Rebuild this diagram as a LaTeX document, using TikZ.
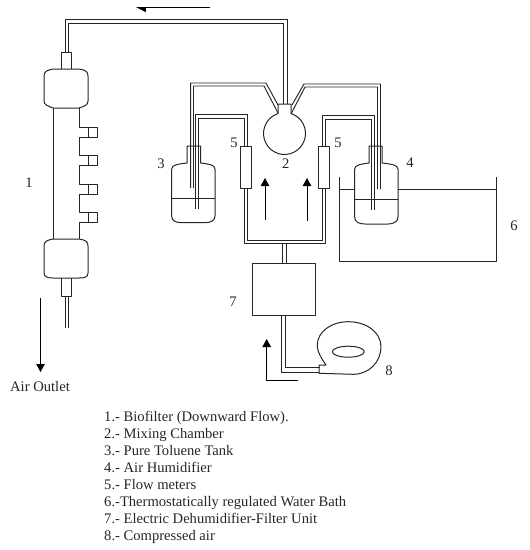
\documentclass[tikz,border=0pt]{standalone}
\usepackage{fontspec}
\setmainfont{Liberation Serif}
\usetikzlibrary{arrows.meta}
\tikzset{
  line/.style={draw=black!85,line width=1pt,line join=round},
  thin pipe/.style={draw=black!85,line width=0.95pt,line join=miter},
  flow/.style={draw=black,line width=1pt,-{Triangle[length=8pt,width=8.5pt]}},
  halfflow/.style={draw=black,line width=0.8pt,-{Triangle[left,length=9pt,width=9pt]}},
  lbl/.style={font=\fontsize{14.6}{16}\selectfont,inner sep=0pt,text=black!85},
  item/.style={font=\fontsize{14.6}{16}\selectfont,inner sep=0pt,anchor=base west,text=black!85}
}
\begin{document}
\begin{tikzpicture}[x=1pt,y=-1pt]
\useasboundingbox (0,0) rectangle (530,550);
% column top cap
\draw[line] (44,76) .. controls (44,71) and (48,70) .. (53,69) -- (79,69) .. controls (85,70) and (88,71) .. (88,76) -- (88,101) .. controls (88,105) and (85,106) .. (79,108) -- (53,108) .. controls (48,106) and (44,105) .. (44,101) -- cycle;
% column bottom cap
\draw[line] (44,246) .. controls (44,241) and (48,240) .. (53,239) -- (79,239) .. controls (85,240) and (88,241) .. (88,246) -- (88,273) .. controls (88,277) and (85,278) .. (79,278) -- (53,278) .. controls (48,278) and (44,277) .. (44,273) -- cycle;
% column body with ports
\draw[line] (53,108) -- (53,239);
\draw[line] (79,108) -- (79,127) -- (97,127) -- (97,137) -- (79,137) -- (79,155) -- (97,155) -- (97,165) -- (79,165) -- (79,184) -- (97,184) -- (97,194) -- (79,194) -- (79,212) -- (97,212) -- (97,222) -- (79,222) -- (79,239);
\foreach \yy in {127,155,184,212} \draw[line] (88,\yy) -- (88,\yy+10);
% necks
\draw[line] (61.5,69) -- (61.5,52) -- (71,52) -- (71,69);
\draw[line] (61.5,278) -- (61.5,296) -- (71,296) -- (71,278);
\draw[thin pipe] (65,296) -- (65,328);
\draw[thin pipe] (68,296) -- (68,328);
% top pipe
\draw[thin pipe] (65,52) -- (65,19.5) -- (287,19.5) -- (287,104);
\draw[thin pipe] (68,52) -- (68,23) -- (283,23) -- (283,104);
% flask: body is a circle open at the neck
\draw[line] (278,113.5) -- (278,104) -- (291,104) -- (291,113.5) arc[start angle=-72,delta angle=324,radius=21];
% left flask pipe
\draw[thin pipe] (190.7,188) -- (190.7,83) -- (266,83) -- (278,105);
\draw[thin pipe] (193.5,188) -- (193.5,86) -- (264,86) -- (278,113);
% right flask pipe
\draw[thin pipe] (377.5,189) -- (377.5,87) -- (305,87) -- (291,114);
\draw[thin pipe] (380.5,189) -- (380.5,84) -- (304,84) -- (292,105);
% left flowmeter pipe
\draw[thin pipe] (247,146) -- (247,114) -- (195,114) -- (195,209);
\draw[thin pipe] (244,146) -- (244,118) -- (198,118) -- (198,209);
% right flowmeter pipe
\draw[thin pipe] (322,146) -- (322,115) -- (374,115) -- (374,210);
\draw[thin pipe] (325.7,146) -- (325.7,119) -- (371,119) -- (371,210);
% flow meters
\draw[line] (240.7,146) rectangle (251,188);
\draw[line] (318,146) rectangle (329,188);
% lower manifold
\draw[thin pipe] (244,188) -- (244,243) -- (325.7,243) -- (325.7,188);
\draw[thin pipe] (247,188) -- (247,240) -- (322,240) -- (322,188);
\draw[thin pipe] (282.7,243) -- (282.7,263);
\draw[thin pipe] (286,243) -- (286,263);
% bottle 3
\draw[line] (187,163) -- (187,146) -- (200.7,146) -- (200.7,163) .. controls (209,164) and (215,165) .. (215,169) -- (215,216) .. controls (215,221) and (210,222.7) .. (205,222.7) -- (182,222.7) .. controls (176,222.7) and (171.7,221) .. (171.7,216) -- (171.7,169) .. controls (171.7,165) and (178,164) .. (187,163);
\draw[line] (171.7,198) -- (215,198);
% bottle 4
\draw[line] (369,163) -- (369,146) -- (382,146) -- (382,163) .. controls (391,164) and (398,165) .. (398,169) -- (398,217) .. controls (398,222) and (393,224) .. (388,224) -- (365,224) .. controls (359,224) and (354.7,222) .. (354.7,217) -- (354.7,169) .. controls (354.7,165) and (361,164) .. (369,163);
\draw[line] (354.7,199) -- (398,199);
% water bath
\draw[line] (339,177.3) -- (339,261.7) -- (496.7,261.7) -- (496.7,177.3);
\draw[line] (339,189) -- (354.7,189);
\draw[line] (398,189) -- (496.7,189);
% dehumidifier
\draw[line] (252,263) rectangle (315.7,315.7);
\draw[thin pipe] (281.7,315.7) -- (281.7,372.7) -- (319,372.7);
\draw[thin pipe] (285.7,315.7) -- (285.7,367) -- (320,367);
% blower
\draw[line] (326,365) .. controls (322,359) and (317.3,353) .. (317.3,345) .. controls (317.3,332) and (331,321.7) .. (348.3,321.7) .. controls (366,321.7) and (381,332) .. (381,346.7) .. controls (381,362) and (369,374.3) .. (353.3,374.3) -- (319,373.3) -- (319,365) -- cycle;
\draw[line] (348.3,351.7) ellipse[x radius=16,y radius=5.5];
% arrows
\coordinate (a1s) at (265,220); \coordinate (a1e) at (265,178);
\coordinate (a2s) at (307,221); \coordinate (a2e) at (307,178);
\coordinate (a3s) at (210,7.5); \coordinate (a3e) at (136,7.5);
\coordinate (a4s) at (40.5,298); \coordinate (a4e) at (40.5,372);
\coordinate (a5s) at (298.3,380); \coordinate (a5m) at (266.7,380); \coordinate (a5e) at (266.7,339);
\draw[flow] (a1s) -- (a1e);
\draw[flow] (a2s) -- (a2e);
\draw[halfflow] (a3s) -- (a3e);
\draw[flow] (a4s) -- (a4e);
\draw[flow] (a5s) -- (a5m) -- (a5e);
% labels
\node[lbl] (n1) at (29,183) {1};
\node[lbl] (n2) at (285.7,164) {2};
\node[lbl] (n3) at (161,164) {3};
\node[lbl] (n4) at (410,163) {4};
\node[lbl] (n5a) at (234,143) {5};
\node[lbl] (n5b) at (338,143) {5};
\node[lbl] (n6) at (514,226) {6};
\node[lbl] (n7) at (233,302) {7};
\node[lbl] (n8) at (389,371) {8};
\node[lbl] (outlet) at (40,386) {Air Outlet};
\node[item] (i1) at (104,421.5) {1.- Biofilter (Downward Flow).};
\node[item] (i2) at (104,438.5) {2.- Mixing Chamber};
\node[item] (i3) at (104,455.5) {3.- Pure Toluene Tank};
\node[item] (i4) at (104,472.3) {4.- Air Humidifier};
\node[item] (i5) at (104,489.2) {5.- Flow meters};
\node[item] (i6) at (104,506) {6.-Thermostatically regulated Water Bath};
\node[item] (i7) at (104,523) {7.- Electric Dehumidifier-Filter Unit};
\node[item] (i8) at (104,540) {8.- Compressed air};
\end{tikzpicture}
\end{document}
